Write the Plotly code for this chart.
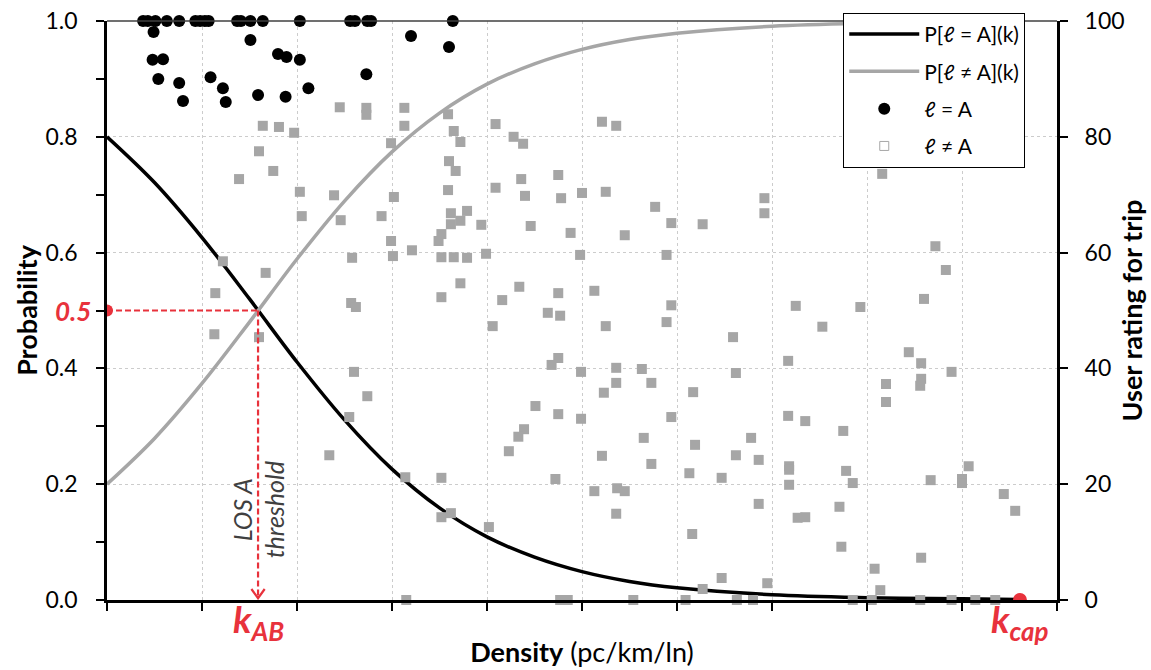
import plotly.graph_objects as go

# ---------------- data ----------------
# Fitted probability curves
curve_density = [0, 5, 10, 15, 20, 25, 30, 35, 40, 45, 50, 55, 60, 70, 80, 90, 96.1]
p_los_a = [0.800, 0.721, 0.626, 0.520, 0.411, 0.311, 0.226, 0.159, 0.109, 0.074,
           0.049, 0.032, 0.021, 0.009, 0.004, 0.002, 0.001]
p_not_los_a = [0.200, 0.279, 0.374, 0.480, 0.589, 0.689, 0.774, 0.841, 0.891, 0.926,
               0.951, 0.968, 0.979, 0.991, 0.996, 0.998, 0.999]

# Trips rated as LOS A (black circles)
los_a_density = [3.8, 4.3, 5.1, 6.3, 7.6, 9.3, 9.8, 10.3, 10.7, 13.7, 14.1, 15.1, 16.4, 20.3,
                 25.6, 26.1, 27.4, 27.8, 36.4,
                 4.9, 15.1, 4.8, 5.9, 18.0, 18.9, 20.3, 5.4, 7.6, 8.0, 10.9, 12.2, 12.5,
                 15.9, 18.8, 21.2, 27.3, 32.0, 36.0]
los_a_rating = [100] * 19 + [98.1, 96.7, 93.3, 93.4, 94.3, 93.8, 93.3, 90.0, 89.3, 86.2, 90.3,
                             88.4, 86.0, 87.2, 86.9, 88.4, 90.8, 97.4, 95.5]

# Trips not rated as LOS A (gray squares)
other_density = [
    13.9, 16.0, 16.4, 18.1, 19.7, 17.5, 24.5, 27.3, 27.3, 31.3, 31.3, 29.9, 35.9, 36.5, 37.2, 40.9, 36.0, 36.7, 35.9, 40.9,
    20.3, 23.9, 30.2, 20.5, 24.6, 28.9, 29.9, 32.1, 30.1, 25.8, 12.2, 16.7, 11.4, 25.7, 26.2, 11.3, 16.0, 26.0, 27.4, 25.5,
    23.4, 31.4, 31.5, 42.8, 43.8, 52.1, 53.6, 43.6, 44.0, 47.5, 47.8, 50.0, 52.5, 57.7, 36.2, 37.9, 36.2, 37.2, 39.4, 44.6,
    59.4, 62.7, 48.8, 54.5, 35.2, 34.9, 35.2, 36.5, 37.9, 39.9, 49.8, 58.9, 37.2, 35.2, 43.4, 41.6, 47.5, 51.3, 46.4, 47.7,
    59.4, 40.6, 52.5, 58.9, 65.9, 47.5, 46.8, 49.9, 53.6, 56.3, 66.2, 53.6, 57.3, 52.3, 61.7, 45.1, 47.5, 49.9, 59.4, 43.9,
    43.3, 42.3, 56.5, 61.9, 67.8, 52.1, 66.2, 57.3, 61.3, 64.7, 35.2, 47.2, 51.3, 53.7, 54.5, 53.6, 35.2, 36.2, 40.2, 61.6,
    64.7, 62.7, 47.7, 48.5, 55.4, 60.9, 66.3, 68.0, 81.6, 69.2, 69.2, 87.2, 88.3, 86.0, 72.5, 79.3, 75.3, 84.4, 85.7, 71.7,
    88.9, 82.0, 85.7, 85.6, 82.0, 71.7, 73.5, 77.5, 68.6, 71.8, 71.8, 77.8, 90.7, 71.8, 78.5, 86.7, 90.0, 90.0, 68.6, 77.1,
    94.4, 95.6, 72.7, 73.5, 77.3, 85.7, 80.8, 69.5, 81.4, 78.5, 80.5, 85.6, 88.9, 91.4, 93.5]
other_rating = [
    72.7, 77.5, 81.9, 81.7, 80.7, 74.1, 85.1, 85.0, 83.8, 85.0, 81.9, 78.9, 83.9, 81.0, 79.1, 82.2, 75.8, 74.1, 70.8, 71.2,
    70.5, 69.9, 69.6, 66.3, 65.6, 66.3, 62.0, 60.4, 59.4, 59.1, 58.5, 56.5, 53.0, 51.3, 50.6, 45.9, 45.4, 39.4, 35.2, 31.6,
    25.0, 21.2, 0, 80.0, 78.8, 82.6, 81.9, 72.7, 69.8, 73.4, 69.4, 70.3, 70.5, 67.9, 66.8, 67.2, 64.9, 65.5, 64.8, 64.6,
    65.1, 64.9, 63.4, 63.0, 63.2, 62.0, 59.2, 59.2, 59.1, 59.8, 59.6, 59.6, 54.7, 52.3, 54.1, 51.8, 53.0, 53.4, 49.6, 49.1,
    50.9, 47.3, 47.3, 48.0, 45.4, 41.8, 40.6, 39.4, 40.1, 39.9, 39.2, 37.5, 37.5, 35.8, 35.9, 33.5, 32.1, 31.3, 31.6, 29.5,
    28.2, 25.7, 28.0, 26.8, 28.0, 24.9, 25.0, 23.5, 21.9, 21.1, 21.1, 20.9, 18.8, 19.3, 18.8, 14.9, 14.3, 15.0, 12.6, 11.4,
    3.8, 1.9, 0, 0, 0, 0, 0, 0, 73.6, 69.4, 66.8, 61.1, 57.0, 52.0, 50.8, 50.6, 47.2, 42.8, 40.9, 41.3,
    39.4, 37.3, 38.2, 37.0, 34.2, 31.8, 30.9, 29.2, 24.2, 23.1, 22.5, 22.3, 23.1, 19.9, 20.2, 20.7, 20.9, 20.2, 16.6, 16.1,
    18.3, 15.4, 14.2, 14.3, 9.2, 7.3, 5.4, 2.9, 1.7, 0, 0, 0, 0, 0, 0]

K_AB = 15.9          # LOS A threshold density
K_CAP = 96.1         # capacity density
P_THRESHOLD = 0.5

# ---------------- styles ----------------
RED = "#e8323c"
GRAY = "#a6a6a6"
FONT = "Lato, 'Open Sans', 'Noto Sans', sans-serif"

fig = go.Figure()

fig.add_trace(go.Scatter(
    x=curve_density, y=p_los_a, mode="lines", line=dict(color="black", width=3.5, shape="spline"),
    name="P[ℓ = A](k)", legendgroup="g1", legendrank=1))
fig.add_trace(go.Scatter(
    x=curve_density, y=p_not_los_a, mode="lines", line=dict(color=GRAY, width=3.5, shape="spline"),
    name="P[ℓ ≠ A](k)", legendgroup="g2", legendrank=2))
fig.add_trace(go.Scatter(
    x=other_density, y=other_rating, yaxis="y2", mode="markers",
    marker=dict(symbol="square", size=10, color=GRAY, line=dict(width=0)),
    showlegend=False, cliponaxis=False, name="ℓ ≠ A"))
fig.add_trace(go.Scatter(
    x=los_a_density, y=los_a_rating, yaxis="y2", mode="markers",
    marker=dict(symbol="circle", size=12, color="black", line=dict(width=0)),
    name="ℓ = A", legendgroup="g3", legendrank=3, cliponaxis=False))
# legend-only entry (hollow square symbol as in the reference legend)
fig.add_trace(go.Scatter(
    x=[None], y=[None], yaxis="y2", mode="markers",
    marker=dict(symbol="square-open", size=9, color=GRAY, line=dict(width=1)),
    name="ℓ ≠ A", legendgroup="g4", legendrank=4))

shapes = [
    # top frame line
    dict(type="line", xref="paper", yref="paper", x0=0, x1=1, y0=1, y1=1,
         line=dict(color="#404040", width=1.5)),
    # threshold guides
    dict(type="line", xref="x", yref="y", x0=0, x1=K_AB, y0=P_THRESHOLD, y1=P_THRESHOLD,
         line=dict(color=RED, width=2.2, dash="6px,3px")),
    dict(type="line", xref="x", yref="y", x0=K_AB, x1=K_AB, y0=P_THRESHOLD, y1=0.004,
         line=dict(color=RED, width=2.2, dash="6px,3px")),
    dict(type="path", xref="x", yref="y",
         path=f"M {K_AB - 0.7},0.019 L {K_AB},0.003 L {K_AB + 0.7},0.019",
         line=dict(color=RED, width=2.2)),
    # red markers
    dict(type="circle", xref="x", yref="y", xsizemode="pixel", ysizemode="pixel",
         xanchor=0, yanchor=P_THRESHOLD, x0=-6, x1=6, y0=-6, y1=6,
         fillcolor=RED, line=dict(width=0)),
    dict(type="circle", xref="x", yref="y", xsizemode="pixel", ysizemode="pixel",
         xanchor=K_CAP, yanchor=0, x0=-7, x1=7, y0=-7, y1=7,
         fillcolor=RED, line=dict(width=0)),
]

annotations = [
    dict(xref="paper", yref="y", x=0, y=P_THRESHOLD, xanchor="right", yanchor="middle",
         xshift=-14, text="<b><i>0.5</i></b>", showarrow=False,
         font=dict(size=26, color=RED, family=FONT)),
    dict(xref="x", yref="y", x=K_AB, y=0, xanchor="center", yanchor="top", yshift=6,
         text="<b><i>k<sub>AB</sub></i></b>", showarrow=False,
         font=dict(size=37, color=RED, family=FONT)),
    dict(xref="x", yref="y", x=K_CAP, y=0, xanchor="center", yanchor="top", yshift=6,
         text="<b><i>k<sub>cap</sub></i></b>", showarrow=False,
         font=dict(size=37, color=RED, family=FONT)),
    dict(xref="x", yref="y", x=K_AB, y=0.155, textangle=-90, showarrow=False,
         text="<i>LOS A<br>threshold</i>", align="center",
         font=dict(size=25, color="#404040", family=FONT)),
]

fig.update_layout(
    width=1151, height=670,
    margin=dict(l=107, r=94, t=21, b=70),
    paper_bgcolor="white", plot_bgcolor="white",
    font=dict(family=FONT, size=23, color="black"),
    shapes=shapes, annotations=annotations,
    xaxis=dict(range=[0, 100], tick0=0, dtick=10, showticklabels=False,
               ticks="outside", ticklen=8, tickwidth=1.5, tickcolor="black",
               showline=True, linecolor="black", linewidth=2.5,
               showgrid=True, gridcolor="#cccccc", griddash="dot", gridwidth=1,
               zeroline=False, automargin=False,
               title=dict(text="<b>Density</b> (pc/km/ln)", font=dict(size=27), standoff=34)),
    yaxis=dict(range=[0, 1], tick0=0, dtick=0.2, tickformat=".1f",
               ticks="outside", ticklen=8, tickwidth=1.5, tickcolor="black",
               minor=dict(dtick=0.1, ticks="outside", ticklen=8, tickwidth=1.5,
                          tickcolor="black", showgrid=False),
               showline=True, linecolor="black", linewidth=2.5,
               showgrid=True, gridcolor="#cccccc", griddash="dot", gridwidth=1,
               zeroline=False, automargin=False, ticklabelstandoff=14,
               title=dict(text="<b>Probability</b>", font=dict(size=27), standoff=1)),
    yaxis2=dict(range=[0, 100], tick0=0, dtick=20, overlaying="y", side="right",
                ticks="outside", ticklen=8, tickwidth=1.5, tickcolor="black",
                showline=True, linecolor="black", linewidth=3,
                showgrid=False, zeroline=False, automargin=False, ticklabelstandoff=12,
                title=dict(text="<b>User rating for trip</b>", font=dict(size=27), standoff=0)),
    legend=dict(x=0.775, y=1.014, xanchor="left", yanchor="top",
                bordercolor="black", borderwidth=1, bgcolor="white",
                font=dict(size=21), tracegroupgap=7, itemwidth=70,
                traceorder="grouped"),
)

fig.write_html("out.html")
